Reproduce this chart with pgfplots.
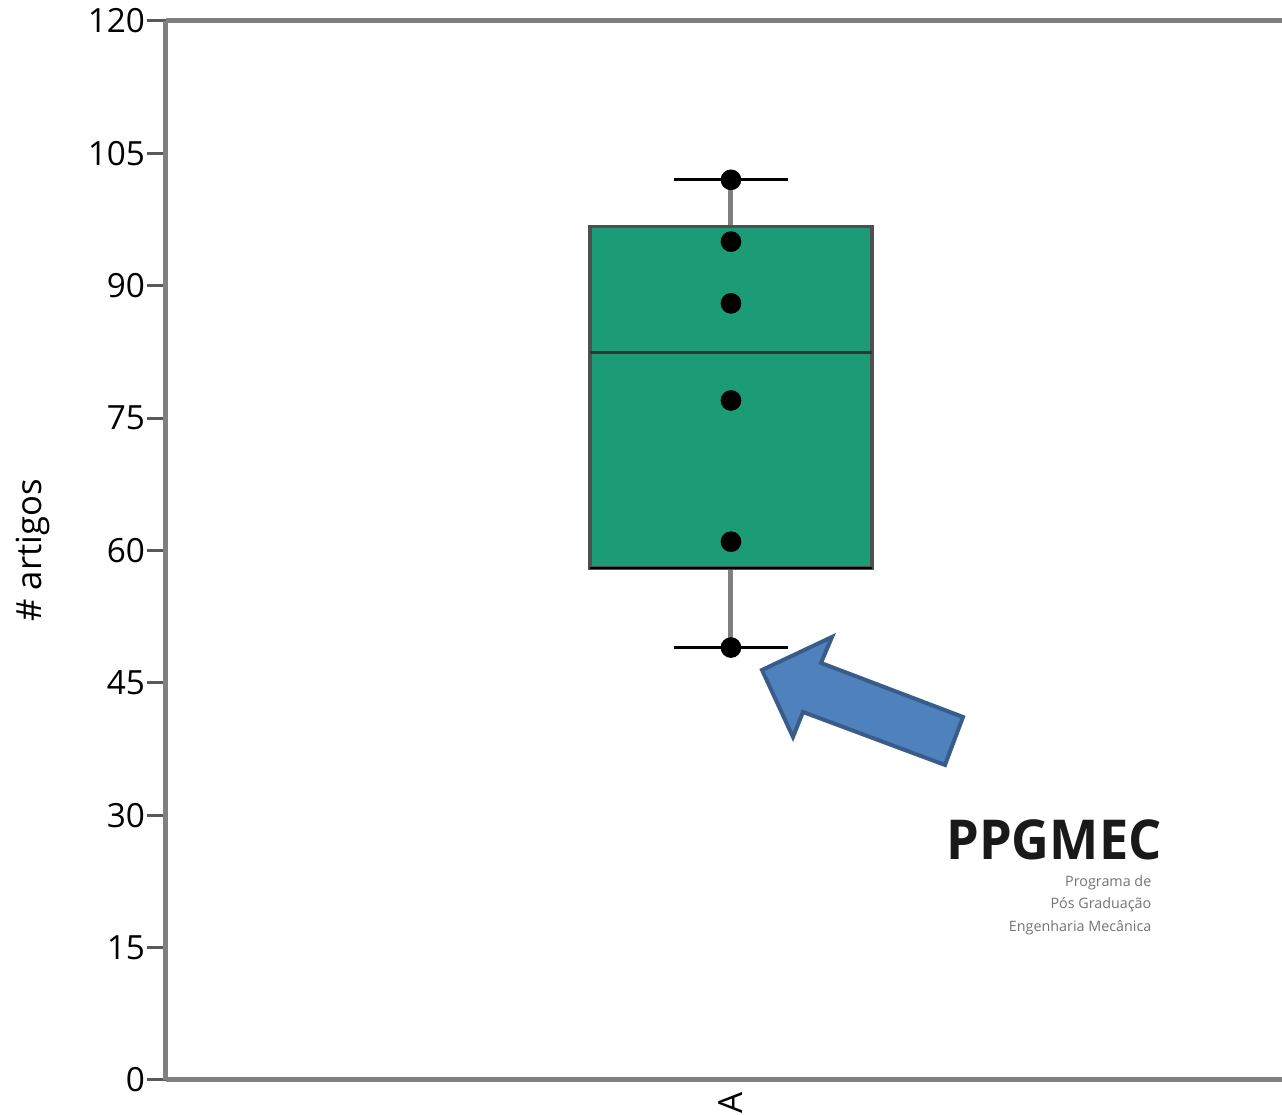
\documentclass[border=0pt]{standalone}
\usepackage{fontspec}
\setmainfont{Open Sans}
\usepackage{pgfplots}
\pgfplotsset{compat=1.18}
\definecolor{boxgreen}{HTML}{1C9C76}
\definecolor{boxedge}{HTML}{4F4F4F}
\definecolor{axgray}{HTML}{808080}
\definecolor{arrowfill}{HTML}{4F81BD}
\definecolor{arrowedge}{HTML}{385D8A}
\begin{document}
\begin{tikzpicture}
\begin{axis}[
  scale only axis, width=334.8pt, height=317.7pt,
  xmin=-1.0035, xmax=2.954, ymin=0, ymax=120,
  axis x line=box, axis y line=left,
  axis line style={axgray, line width=1.5pt, -},
  ytick={0,15,...,120},
  xtick={1}, xticklabels={A}, xticklabel pos=lower,
  xtick style={draw=none},
  x tick label style={rotate=90, anchor=east, inner sep=0pt},
  xticklabel shift=-2.1pt,
  y tick label style={inner sep=0.4pt},
  tick align=outside, major tick length=5.7pt,
  ytick style={color=black!65, line width=0.9pt},
  /pgf/number format/assume math mode=true,
  tick label style={font=\fontsize{10}{12}\selectfont, black},
  ylabel={\# artigos},
  ylabel style={font=\fontsize{10.4}{12}\selectfont, at={(axis description cs:-0.1192,0.5)}, anchor=center},
  clip=false,
]
% whiskers
\addplot[axgray, line width=1.5pt] coordinates {(1,96.7) (1,102)};
\addplot[axgray, line width=1.5pt] coordinates {(1,49) (1,58)};
% box (Q1 = 58, Q3 = 96.7)
\addplot[fill=boxgreen, draw=boxedge, line width=1.1pt] coordinates {(0.5,58) (1.5,58) (1.5,96.7) (0.5,96.7)} -- cycle;
\addplot[black, line width=0.8pt] coordinates {(0.5,58) (1.5,58)};
% median
\addplot[black!80, line width=0.9pt] coordinates {(0.5,82.4) (1.5,82.4)};
% whisker caps
\addplot[black, line width=0.9pt] coordinates {(0.798,102) (1.202,102)};
\addplot[black, line width=0.9pt] coordinates {(0.798,49) (1.202,49)};
% observations
\addplot[only marks, mark=*, mark size=2.9pt, black] coordinates {(1,49) (1,61) (1,77) (1,88) (1,95) (1,102)};
\end{axis}
\begin{scope}[shift={(current axis.south west)}, x=0.3pt, y=-0.3pt]
  \draw[arrowedge, line width=1.2pt, fill=arrowfill, line join=miter]
    (596,-410) -- (666,-443) -- (655,-417) -- (797,-363) -- (779,-315) -- (637,-368) -- (627,-343) -- cycle;
  \node[font=\bfseries\fontsize{16.5}{16.5}\selectfont, inner sep=0, text=black!90] at (888,-240) {\scalebox{0.95}[1]{PPGMEC}};
  \node[font=\fontsize{4.3}{6.7}\selectfont, text=black!55, align=right, anchor=north east, inner sep=0] at (986,-205)
    {Programa de\\Pós Graduação\\Engenharia Mecânica};
  \pgfresetboundingbox
  \useasboundingbox (-166,35) rectangle (1116,-1080);
\end{scope}
\end{tikzpicture}
\end{document}
